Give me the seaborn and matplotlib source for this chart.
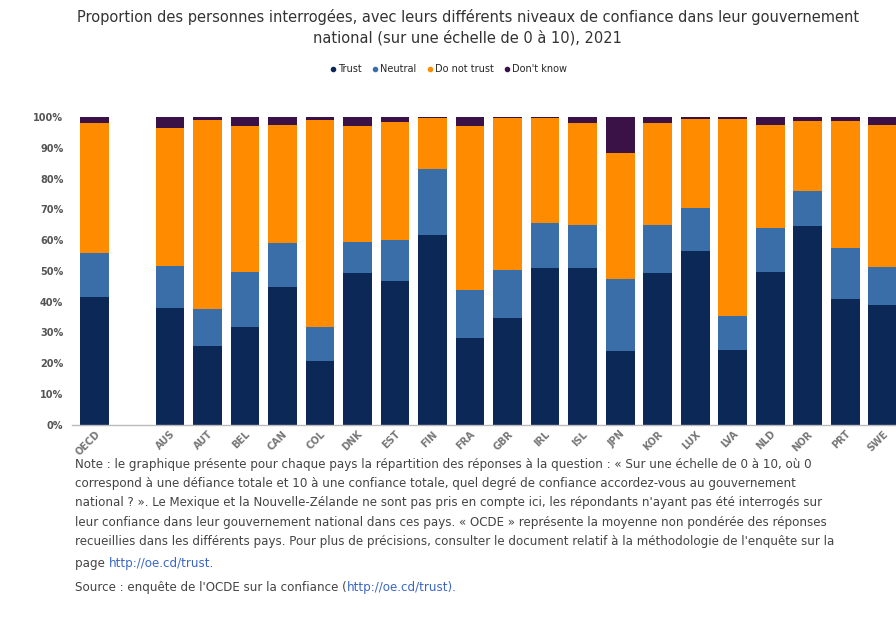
"""
Trust in national government, OECD survey 2021 - stacked bars.
"""
import numpy as np
import pandas as pd
import matplotlib
matplotlib.use('Agg')
import matplotlib.pyplot as plt
from matplotlib.lines import Line2D
import seaborn as sns

COUNTRIES = ['OECD', ' ', 'AUS', 'AUT', 'BEL', 'CAN', 'COL', 'DNK', 'EST', 'FIN', 'FRA',
             'GBR', 'IRL', 'ISL', 'JPN', 'KOR', 'LUX', 'LVA', 'NLD', 'NOR', 'PRT', 'SWE']
PLOTTED = [c for c in COUNTRIES if c.strip()]

TRUST = [41.6, 37.9, 25.6, 31.9, 44.7, 20.6, 49.2, 46.8, 61.7, 28.1,
         34.8, 50.9, 50.9, 24.0, 49.2, 56.3, 24.4, 49.5, 64.6, 40.8, 39.0]
NEUTRAL = [14.1, 13.7, 11.9, 17.6, 14.5, 11.3, 10.3, 13.2, 21.3, 15.7,
           15.5, 14.6, 14.0, 23.3, 15.7, 14.0, 10.8, 14.4, 11.2, 16.6, 12.4]
DISTRUST = [42.3, 44.7, 61.5, 47.4, 38.2, 67.1, 37.4, 38.5, 16.7, 53.3,
            49.4, 34.2, 33.1, 40.9, 33.1, 28.9, 64.0, 33.5, 23.0, 41.4, 46.0]
DONT_KNOW = [2.0, 3.7, 1.0, 3.1, 2.6, 1.0, 3.1, 1.5, 0.3, 2.9,
             0.3, 0.3, 2.0, 11.8, 2.0, 0.8, 0.8, 2.6, 1.2, 1.2, 2.6]

SERIES = ['Trust', 'Neutral', 'Do not trust', "Don't know"]
COLORS = ['#0c2857', '#3a6ea8', '#ff8c00', '#3a1248']

TITLE = ("Proportion des personnes interrogées, avec leurs différents niveaux de confiance dans leur gouvernement\n"
         "national (sur une échelle de 0 à 10), 2021")
NOTE = ("Note : le graphique présente pour chaque pays la répartition des réponses à la question : « Sur une échelle de 0 à 10, où 0\n"
        "correspond à une défiance totale et 10 à une confiance totale, quel degré de confiance accordez-vous au gouvernement\n"
        "national ? ». Le Mexique et la Nouvelle-Zélande ne sont pas pris en compte ici, les répondants n'ayant pas été interrogés sur\n"
        "leur confiance dans leur gouvernement national dans ces pays. « OCDE » représente la moyenne non pondérée des réponses\n"
        "recueillies dans les différents pays. Pour plus de précisions, consulter le document relatif à la méthodologie de l'enquête sur la")
LINK = "http://oe.cd/trust"
SOURCE = "Source : enquête de l'OCDE sur la confiance ("

sns.set_theme(style='white')
plt.rcParams['font.family'] = ['DejaVu Sans']

data = pd.DataFrame({'country': PLOTTED, 'Trust': TRUST, 'Neutral': NEUTRAL,
                     'Do not trust': DISTRUST, "Don't know": DONT_KNOW})
cum = data[SERIES].cumsum(axis=1) / 100.0

fig = plt.figure(figsize=(8.96, 6.22), dpi=100)
ax = fig.add_axes([0.080, 0.317, 0.926, 0.495])

# draw the cumulative totals from the top layer down so they stack
for name, color in reversed(list(zip(SERIES, COLORS))):
    sns.barplot(x=data['country'], y=cum[name], order=COUNTRIES, color=color,
                width=0.77, saturation=1, linewidth=0, ax=ax)

ax.set_xlim(-0.62, 21.5)
ax.set_ylim(0, 1.0)
ticks = np.arange(0, 1.01, 0.1)
ax.set_yticks(ticks)
ax.set_yticklabels(['{:d}%'.format(int(round(v * 100))) for v in ticks])
ax.set_xlabel('')
ax.set_ylabel('')
ax.tick_params(axis='y', length=0, labelsize=7, labelcolor='#555555', pad=6)
ax.tick_params(axis='x', length=0, labelsize=7, labelcolor='#777777', pad=3)
for lab in ax.get_xticklabels():
    lab.set_rotation(45)
    lab.set_ha('right')
    lab.set_rotation_mode('anchor')
    lab.set_fontweight('bold')
for lab in ax.get_yticklabels():
    lab.set_fontweight('bold')
for side in ['top', 'right', 'left']:
    ax.spines[side].set_visible(False)
ax.spines['bottom'].set_color('#bbbbbb')
ax.spines['bottom'].set_linewidth(1.0)

fig.text(0.522, 0.985, TITLE, ha='center', va='top', fontsize=10.5, color='#333333',
         linespacing=1.35)

handles = [Line2D([], [], marker='o', linestyle='', markersize=3, color=c) for c in COLORS]
fig.legend(handles, SERIES, loc='center', bbox_to_anchor=(0.5, 0.889), ncol=4,
           frameon=False, fontsize=7, handletextpad=0.1, columnspacing=1.0,
           handlelength=0.8)

txt = dict(ha='left', va='center', fontsize=8.6, color='#444444')
fig.text(0.084, 1 - 458 / 622, NOTE, linespacing=1.62,
         **dict(txt, va='top'))

fig.canvas.draw()
renderer = fig.canvas.get_renderer()
inv = fig.transFigure.inverted()


def text_with_link(x, y, before, link):
    t = fig.text(x, y, before, **txt)
    ext = t.get_window_extent(renderer)
    x_end = inv.transform((ext.x1, ext.y0))[0]
    fig.text(x_end, y, link, ha='left', va='center', fontsize=8.6, color='#3a66c8')


text_with_link(0.084, 1 - 563 / 622, 'page ', LINK + '.')
text_with_link(0.084, 1 - 587 / 622, SOURCE, LINK + ').')

fig.savefig('out.png', dpi=100)
